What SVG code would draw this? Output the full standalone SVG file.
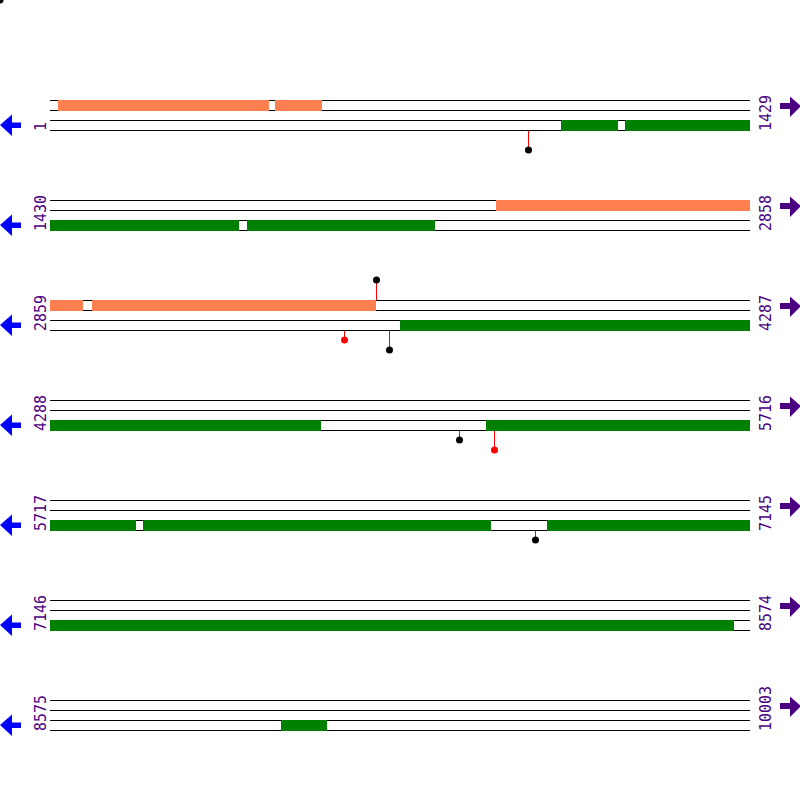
<svg xmlns="http://www.w3.org/2000/svg" width="800" height="800" viewBox="0 0 800 800">
<defs>
<style>
.ln{stroke:#000;stroke-width:1}
.or{fill:#FF7F50}
.gr{fill:#008000}
.lab{font-family:"DejaVu Sans Mono","Liberation Mono",monospace;font-size:15px;fill:#4B0082}
.la{fill:#0000FF}
.ra{fill:#4B0082}
.stem{stroke:#FF0000;stroke-width:1}
.dk{fill:#000}
.dr{fill:#FF0000}
</style>
<g id="rowlines">
<line class="ln" x1="50" y1="0.5" x2="750" y2="0.5"/>
<line class="ln" x1="50" y1="10.5" x2="750" y2="10.5"/>
<line class="ln" x1="50" y1="20.5" x2="750" y2="20.5"/>
<line class="ln" x1="50" y1="30.5" x2="750" y2="30.5"/>
</g>
<polygon id="larrow" class="la" points="0,25 12,14.5 12,22.5 21,22.5 21,28 12,28 12,36"/>
<polygon id="rarrow" class="ra" points="801,6 790,-3.5 790,3 780,3 780,9 790,9 790,17"/>
</defs>
<rect width="800" height="800" fill="#fff"/>
<circle cx="0" cy="0" r="3.5" fill="#000"/>

<g id="row1" transform="translate(0,100)">
<use href="#rowlines"/>
<rect class="or" x="58" y="0" width="211" height="11"/>
<rect class="or" x="275" y="0" width="47" height="11"/>
<rect class="gr" x="561" y="20" width="57" height="11"/>
<rect class="gr" x="625" y="20" width="125" height="11"/>
<use href="#larrow"/><use href="#rarrow"/>
<text class="lab" transform="translate(46,31) rotate(-90)">1</text>
<text class="lab" transform="translate(771,31) rotate(-90)">1429</text>
</g>

<g id="row2" transform="translate(0,200)">
<use href="#rowlines"/>
<rect class="or" x="496" y="0" width="254" height="11"/>
<rect class="gr" x="50" y="20" width="189" height="11"/>
<rect class="gr" x="247" y="20" width="188" height="11"/>
<use href="#larrow"/><use href="#rarrow"/>
<text class="lab" transform="translate(46,31) rotate(-90)">1430</text>
<text class="lab" transform="translate(771,31) rotate(-90)">2858</text>
</g>

<g id="row3" transform="translate(0,300)">
<use href="#rowlines"/>
<rect class="or" x="50" y="0" width="33" height="11"/>
<rect class="or" x="92" y="0" width="284" height="11"/>
<rect class="gr" x="400" y="20" width="350" height="11"/>
<use href="#larrow"/><use href="#rarrow"/>
<text class="lab" transform="translate(46,31) rotate(-90)">2859</text>
<text class="lab" transform="translate(771,31) rotate(-90)">4287</text>
</g>

<g id="row4" transform="translate(0,400)">
<use href="#rowlines"/>
<rect class="gr" x="50" y="20" width="271" height="11"/>
<rect class="gr" x="486" y="20" width="264" height="11"/>
<use href="#larrow"/><use href="#rarrow"/>
<text class="lab" transform="translate(46,31) rotate(-90)">4288</text>
<text class="lab" transform="translate(771,31) rotate(-90)">5716</text>
</g>

<g id="row5" transform="translate(0,500)">
<use href="#rowlines"/>
<rect class="gr" x="50" y="20" width="86" height="11"/>
<rect class="gr" x="143" y="20" width="348" height="11"/>
<rect class="gr" x="547" y="20" width="203" height="11"/>
<use href="#larrow"/><use href="#rarrow"/>
<text class="lab" transform="translate(46,31) rotate(-90)">5717</text>
<text class="lab" transform="translate(771,31) rotate(-90)">7145</text>
</g>

<g id="row6" transform="translate(0,600)">
<use href="#rowlines"/>
<rect class="gr" x="50" y="20" width="684" height="11"/>
<use href="#larrow"/><use href="#rarrow"/>
<text class="lab" transform="translate(46,31) rotate(-90)">7146</text>
<text class="lab" transform="translate(771,31) rotate(-90)">8574</text>
</g>

<g id="row7" transform="translate(0,700)">
<use href="#rowlines"/>
<rect class="gr" x="281" y="20" width="46" height="11"/>
<use href="#larrow"/><use href="#rarrow"/>
<text class="lab" transform="translate(46,31) rotate(-90)">8575</text>
<text class="lab" transform="translate(771,31) rotate(-90)">10003</text>
</g>

<g id="connectors">
<line class="stem" x1="528.5" y1="131" x2="528.5" y2="150"/>
<circle class="dk" cx="528.5" cy="150" r="3.5"/>
<line class="stem" x1="376.5" y1="300" x2="376.5" y2="280"/>
<circle class="dk" cx="376.5" cy="280" r="3.5"/>
<line class="stem" x1="344.5" y1="331" x2="344.5" y2="340"/>
<circle class="dr" cx="344.5" cy="340" r="3.5"/>
<line class="stem" x1="389.5" y1="331" x2="389.5" y2="350"/>
<circle class="dk" cx="389.5" cy="350" r="3.5"/>
<line class="stem" x1="459.5" y1="431" x2="459.5" y2="440"/>
<circle class="dk" cx="459.5" cy="440" r="3.5"/>
<line class="stem" x1="494.5" y1="431" x2="494.5" y2="450"/>
<circle class="dr" cx="494.5" cy="450" r="3.5"/>
<line class="stem" x1="535.5" y1="531" x2="535.5" y2="540"/>
<circle class="dk" cx="535.5" cy="540" r="3.5"/>
</g>
</svg>
